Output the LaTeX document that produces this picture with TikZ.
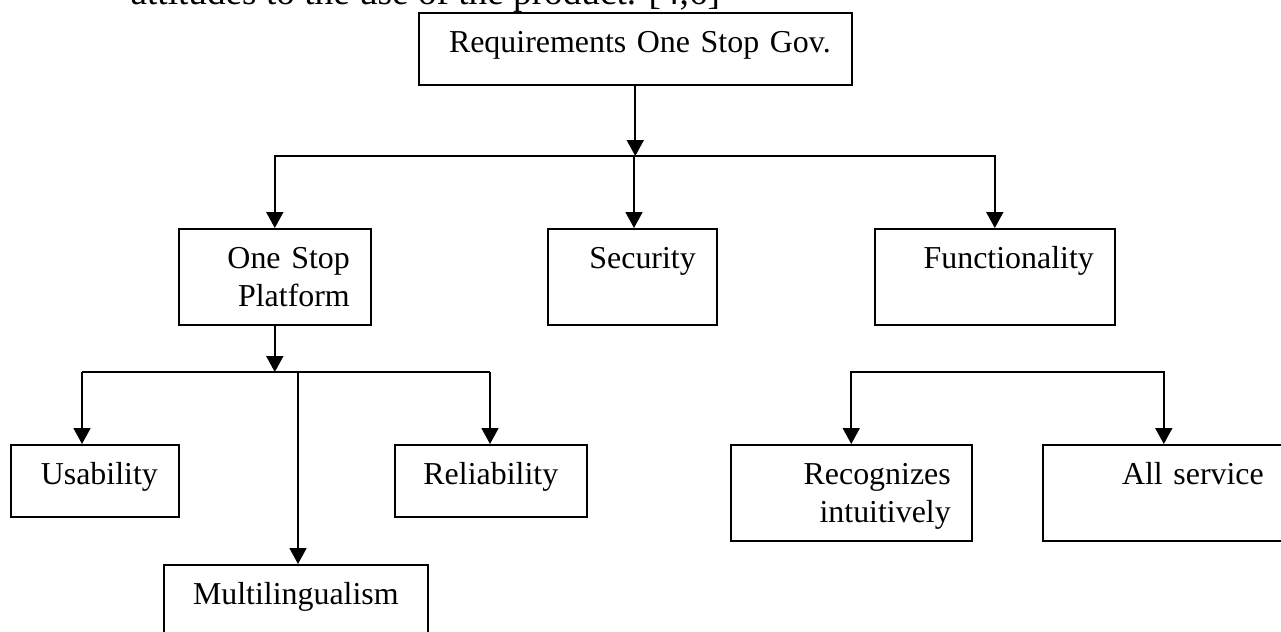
\documentclass[tikz,border=0pt]{standalone}
\usepackage{fontspec}
\setmainfont{Liberation Serif}
\usetikzlibrary{arrows.meta}
\begin{document}
\begin{tikzpicture}[x=0.376pt,y=-0.376pt,
  box/.style={draw, line width=0.6pt, anchor=north west, align=right,
    inner xsep=7.9pt, inner ysep=0pt, text width=#1, text height=15.04pt,
    font=\fontsize{12}{14.3}\selectfont},
  short/.style={text depth=12.03pt},
  tall/.style={text depth=21.06pt},
  arr/.style={line width=0.6pt, -{Triangle[length=6pt,width=6.4pt]}},
  link/.style={line width=0.6pt}]
\useasboundingbox (0,0) rectangle (1281,632);
\clip (0,0) rectangle (1281,632);
\node[anchor=base west, inner sep=0pt, font=\fontsize{14}{16}\selectfont] (cap) at (130,4) {attitudes to the use of the product. [4,6]};
% top level
\node[box=147pt, short] (req) at (418,12) {Requirements One Stop Gov.};
\node[box=56.4pt, tall] (osp) at (178,228) {One Stop\\Platform};
\node[box=47.75pt, tall] (sec) at (547,228) {Security};
\node[box=74.45pt, tall] (fun) at (874,228) {Functionality};
% second level
\node[box=47.4pt, short] (usa) at (10,444) {Usability};
\node[box=56.4pt, short, align=center] (rel) at (394,444) {Reliability};
\node[box=83.5pt, tall, align=center] (mul) at (163,564) {Multilingualism};
\node[box=74.8pt, tall] (rec) at (730,444) {Recognizes\\intuitively};
\node[box=75.2pt, tall] (all) at (1042,444) {All service};
\coordinate (j1) at (634,156);
\coordinate (j2) at (274,372);
\coordinate (uj) at (82,372);
\coordinate (rj) at (490,372);
\coordinate (mj) at (298,372);
\coordinate (fj) at (1006,372);
\draw[arr] (req.south) -- (req.south |- j1);
\draw[arr] (j1) -| (osp.north);
\draw[arr] (j1) -| (fun.north);
\draw[arr] (j1) -- (j1 |- sec.north);
\draw[arr] (osp.south) -- (osp.south |- j2);
\draw[link] (uj) -- (rj);
\draw[arr] (uj) -- (uj |- usa.north);
\draw[arr] (rj) -- (rj |- rel.north);
\draw[arr] (mj) -- (mj |- mul.north);
\draw[arr] (fj) -| (rec.north);
\draw[arr] (fj) -| (all.north);
\end{tikzpicture}
\end{document}
